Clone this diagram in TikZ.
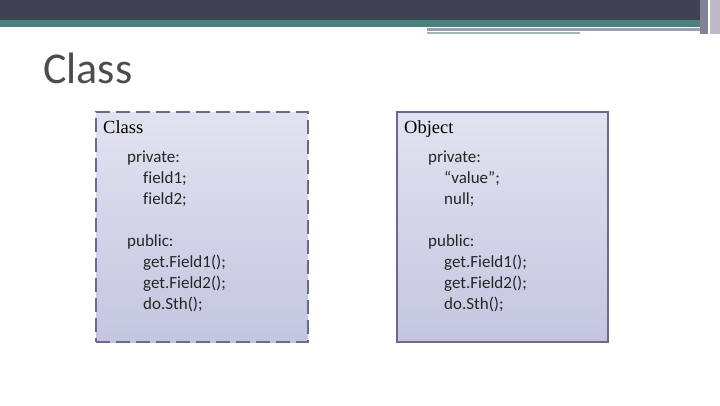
\documentclass[tikz,border=0pt]{standalone}
\usepackage{fontspec}
\setmainfont{Carlito}[Ligatures=NoCommon]
\newfontfamily\hdr{Liberation Serif}
\definecolor{bord}{RGB}{112,102,150}
\definecolor{ftop}{RGB}{226,226,240}
\definecolor{fbot}{RGB}{196,198,224}
\begin{document}
\begin{tikzpicture}[x=1pt,y=-1pt,
  boxst/.style={line width=2pt,draw=bord,top color=ftop,bottom color=fbot},
  txt/.style={anchor=north west,inner sep=0pt,font=\fontsize{17}{21}\selectfont,align=left,text=black!85},
  hd/.style={anchor=north west,inner sep=0pt,font=\hdr\fontsize{18.5}{20}\selectfont}]
\useasboundingbox (0,0) rectangle (720,405);
\fill[fill={rgb,255:red,64;green,66;blue,84}] (0,0) rectangle (700,20);
\fill[fill={rgb,255:red,74;green,128;blue,128}] (0,20) rectangle (700,27);
\fill[fill={rgb,255:red,150;green,160;blue,180}] (427,28) rectangle (700,31);
\fill[fill={rgb,255:red,160;green,185;blue,185}] (427,32) rectangle (580,34);
\fill[fill={rgb,255:red,130;green,130;blue,150}] (700,0) rectangle (708,34);
\fill[fill={rgb,255:red,190;green,185;blue,200}] (710,0) rectangle (720,34);
\node[anchor=west,inner sep=0pt,font=\fontsize{44}{48}\selectfont,text=black!70] (title) at (43,68) {Class};
\node[boxst,dashed,dash pattern=on 14pt off 6pt,minimum width=212,minimum height=230,anchor=north west] (cls) at (95,111) {};
\node[boxst,minimum width=211,minimum height=230,anchor=north west] (obj) at (396,111) {};
\node[hd] (h1) at (103,120) {Class};
\node[hd] (h2) at (404,120) {Object};
\node[txt] (t1) at (127,151) {private:\\\hspace{16pt}field1;\\\hspace{16pt}field2;\\[21pt]public:\\\hspace{16pt}get.Field1();\\\hspace{16pt}get.Field2();\\\hspace{16pt}do.Sth();};
\node[txt] (t2) at (428,151) {private:\\\hspace{16pt}“value”;\\\hspace{16pt}null;\\[21pt]public:\\\hspace{16pt}get.Field1();\\\hspace{16pt}get.Field2();\\\hspace{16pt}do.Sth();};
\end{tikzpicture}
\end{document}
